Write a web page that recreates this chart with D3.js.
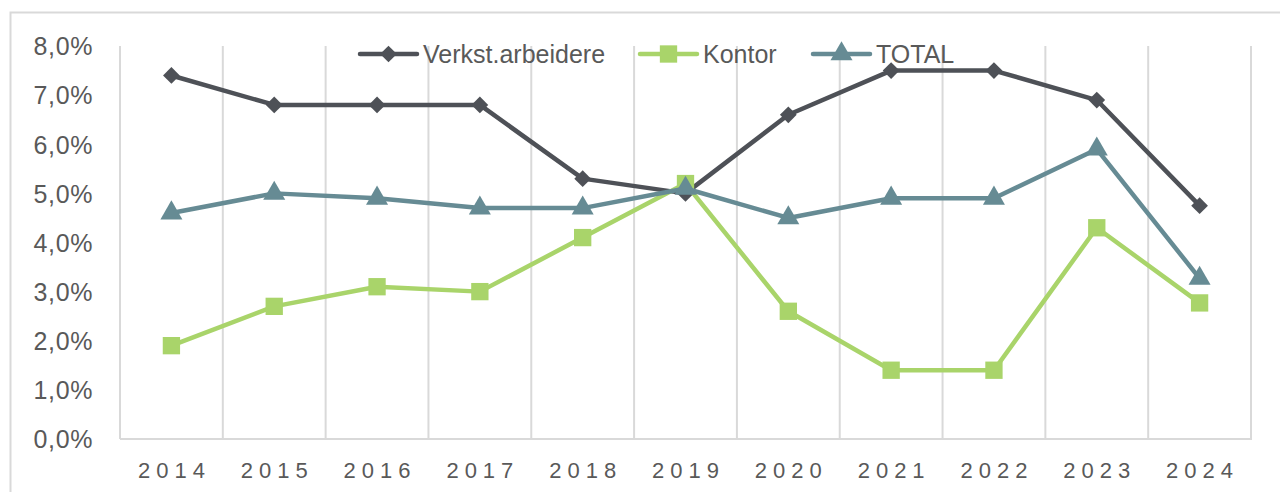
<!DOCTYPE html>
<html><head><meta charset="utf-8">
<script src="https://cdn.jsdelivr.net/npm/d3@7"></script>
<style>body{margin:0;background:#fff;} svg{display:block;font-family:"Liberation Sans",Arial,sans-serif;}</style>
</head><body>
<svg id="c" width="1280" height="492"></svg>
<script>
const years = ["2014","2015","2016","2017","2018","2019","2020","2021","2022","2023","2024"];
const verkst = [7.4,6.8,6.8,6.8,5.3,5.0,6.6,7.5,7.5,6.9,4.75];
const kontor = [1.9,2.7,3.1,3.0,4.1,5.2,2.6,1.4,1.4,4.3,2.77];
const total = [4.6,5.0,4.9,4.7,4.7,5.1,4.5,4.9,4.9,5.9,3.27];
const yTicks = [0,1,2,3,4,5,6,7,8];
const seriesNames = ["Verkst.arbeidere","Kontor","TOTAL"];
const colors = ["#4e5157","#a9d46a","#668b94"];
const symbols = ["diamond","square","triangle"];

const svg = d3.select("#c");
const L=120,R=1251,T=46,B=439;
svg.append("rect").attr("x",10.5).attr("y",12.5).attr("width",1300).attr("height",500)
  .attr("fill","none").attr("stroke","#d9d9d9").attr("stroke-width",2);

const x = d3.scaleBand().domain(years).range([L,R]);
const y = d3.scaleLinear().domain([0,8]).range([B,T]);

const g = svg.append("g");
years.forEach(yr=>{
  const xv = x(yr);
  g.append("line").attr("x1",xv).attr("x2",xv).attr("y1",T).attr("y2",B).attr("stroke","#d9d9d9").attr("stroke-width",2);
});
g.append("line").attr("x1",R).attr("x2",R).attr("y1",T).attr("y2",B).attr("stroke","#d9d9d9").attr("stroke-width",2);
g.append("line").attr("x1",L).attr("x2",R+1).attr("y1",B).attr("y2",B).attr("stroke","#d9d9d9").attr("stroke-width",2);

const fmt = v => d3.format(".1f")(v).replace(".",",")+"%";
const ya = svg.append("g").attr("transform",`translate(${L-24},0)`)
  .call(d3.axisLeft(y).tickValues(yTicks).tickFormat(fmt).tickSize(0));
ya.select(".domain").remove();
ya.selectAll("text").attr("fill","#595959").style("font-size","25px").style("letter-spacing","0.6px").attr("dy","0.35em");

const ls = 6;
const xa = svg.append("g").attr("transform",`translate(0,${B+20})`)
  .call(d3.axisBottom(x).tickSize(0));
xa.select(".domain").remove();
xa.selectAll("text").attr("fill","#595959").style("font-size","22px").style("letter-spacing",ls+"px").attr("dx",(ls/2)+"px").attr("dy","0.71em");

const diamond = {draw(ctx,size){const r=Math.sqrt(size/2);ctx.moveTo(0,-r);ctx.lineTo(r,0);ctx.lineTo(0,r);ctx.lineTo(-r,0);ctx.closePath();}};
const symFns = {diamond:diamond, square:d3.symbolSquare, triangle:d3.symbolTriangle};
const symSize = {diamond:140, square:300, triangle:210};
const data = [verkst,kontor,total];
const cx = d=>x(d.year)+x.bandwidth()/2;
data.forEach((vals,si)=>{
  const pts = years.map((yr,i)=>({year:yr,v:vals[i]}));
  svg.append("path").datum(pts)
    .attr("d",d3.line().x(cx).y(d=>y(d.v)))
    .attr("fill","none").attr("stroke",colors[si]).attr("stroke-width",4.5).attr("stroke-linejoin","round").attr("stroke-linecap","round");
  svg.selectAll(null).data(pts).enter().append("path")
    .attr("transform",d=>`translate(${cx(d)},${y(d.v)})`)
    .attr("d",d3.symbol().type(symFns[symbols[si]]).size(symSize[symbols[si]]))
    .attr("fill",colors[si]);
});

const legX = [360,640,813];
seriesNames.forEach((n,i)=>{
  const lg = svg.append("g").attr("transform",`translate(${legX[i]},54)`);
  lg.append("line").attr("x1",0).attr("x2",57).attr("stroke",colors[i]).attr("stroke-width",4.5).attr("stroke-linecap","round");
  lg.append("path").attr("transform","translate(28.5,0)")
    .attr("d",d3.symbol().type(symFns[symbols[i]]).size(symSize[symbols[i]])).attr("fill",colors[i]);
  lg.append("text").attr("x",63).attr("y",0).attr("dy","0.35em").attr("fill","#595959").style("font-size","25px").text(n);
});
</script>
</body></html>
